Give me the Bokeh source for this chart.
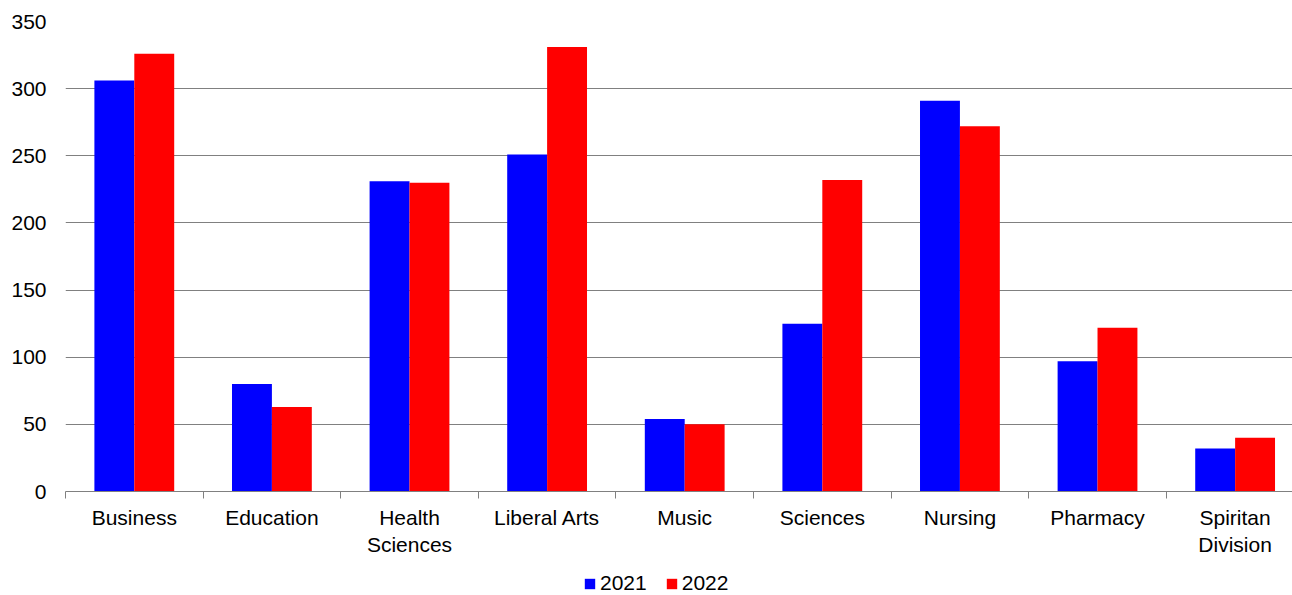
from bokeh.plotting import figure
from bokeh.layouts import column
from bokeh.models import ColumnDataSource, Range1d, FixedTicker, Legend, LegendItem
from bokeh.transform import dodge
from bokeh.embed import file_html
from bokeh.resources import INLINE

categories = ["Business", "Education", "Health\nSciences", "Liberal Arts", "Music",
              "Sciences", "Nursing", "Pharmacy", "Spiritan\nDivision"]
series_names = ["2021", "2022"]
values_2021 = [306, 80, 231, 251, 54, 125, 291, 97, 32]
values_2022 = [326, 63, 230, 331, 50, 232, 272, 122, 40]
y_ticks = [0, 50, 100, 150, 200, 250, 300, 350]
colors = ["#0000FF", "#FF0000"]

pos = [i + 0.5 for i in range(len(categories))]
src = ColumnDataSource(dict(x=pos, v1=values_2021, v2=values_2022))

FONT = "Liberation Sans"
FS = "21px"

p = figure(width=1292, height=562, output_backend="svg", toolbar_location=None,
           x_range=Range1d(0, 8.917), y_range=Range1d(0, 350),
           min_border_left=65, min_border_right=0, min_border_top=21, min_border_bottom=71)
p.outline_line_color = None
p.background_fill_color = "white"

bw = 0.29
r1 = p.vbar(x=dodge("x", -bw / 2, range=p.x_range), top="v1", width=bw, source=src,
            fill_color=colors[0], line_color=None)
r2 = p.vbar(x=dodge("x", bw / 2, range=p.x_range), top="v2", width=bw, source=src,
            fill_color=colors[1], line_color=None)

# x axis
xa = p.xaxis[0]
xa.ticker = FixedTicker(ticks=pos, minor_ticks=list(range(len(categories) + 1)))
xa.major_label_overrides = {x: c for x, c in zip(pos, categories)}
xa.major_tick_line_color = None
xa.major_tick_in = 0
xa.major_tick_out = 0
xa.minor_tick_line_color = "#808080"
xa.minor_tick_in = 0
xa.minor_tick_out = 7
xa.axis_line_color = "#808080"
xa.major_label_text_font = FONT
xa.major_label_text_font_size = FS
xa.major_label_text_color = "black"
xa.major_label_standoff = 7

# y axis
ya = p.yaxis[0]
ya.ticker = FixedTicker(ticks=y_ticks)
ya.axis_line_color = None
ya.major_tick_line_color = None
ya.minor_tick_line_color = None
ya.major_tick_in = 0
ya.major_tick_out = 0
ya.major_label_text_font = FONT
ya.major_label_text_font_size = FS
ya.major_label_text_color = "black"
ya.major_label_standoff = 19

p.xgrid.grid_line_color = None
p.ygrid.ticker = FixedTicker(ticks=y_ticks[1:])
p.ygrid.grid_line_color = "#808080"
p.ygrid.grid_line_width = 1

# legend strip below the chart (the swatch glyphs sit outside its visible range)
pl = figure(width=1292, height=33, output_backend="svg", toolbar_location=None,
            x_range=Range1d(0, 1), y_range=Range1d(0, 1),
            x_axis_type=None, y_axis_type=None,
            min_border_left=0, min_border_right=0, min_border_top=0, min_border_bottom=0)
pl.outline_line_color = None
pl.xgrid.visible = False
pl.ygrid.visible = False
lsrc = ColumnDataSource(dict(x=[-5], top=[-5]))
l1 = pl.vbar(x="x", top="top", width=0.1, source=lsrc, fill_color=colors[0], line_color=None)
l2 = pl.vbar(x="x", top="top", width=0.1, source=lsrc, fill_color=colors[1], line_color=None)

legend = Legend(items=[LegendItem(label=series_names[0], renderers=[l1]),
                       LegendItem(label=series_names[1], renderers=[l2])],
                orientation="horizontal", location=(518, 0))
legend.border_line_color = None
legend.background_fill_alpha = 0
legend.label_text_font = FONT
legend.label_text_font_size = FS
legend.label_text_color = "black"
legend.glyph_width = 13
legend.glyph_height = 13
legend.label_standoff = 4
legend.spacing = 18
legend.padding = 0
legend.margin = 0
pl.add_layout(legend)

layout = column(p, pl, spacing=0)
open("out.html", "w").write(file_html(layout, INLINE))
